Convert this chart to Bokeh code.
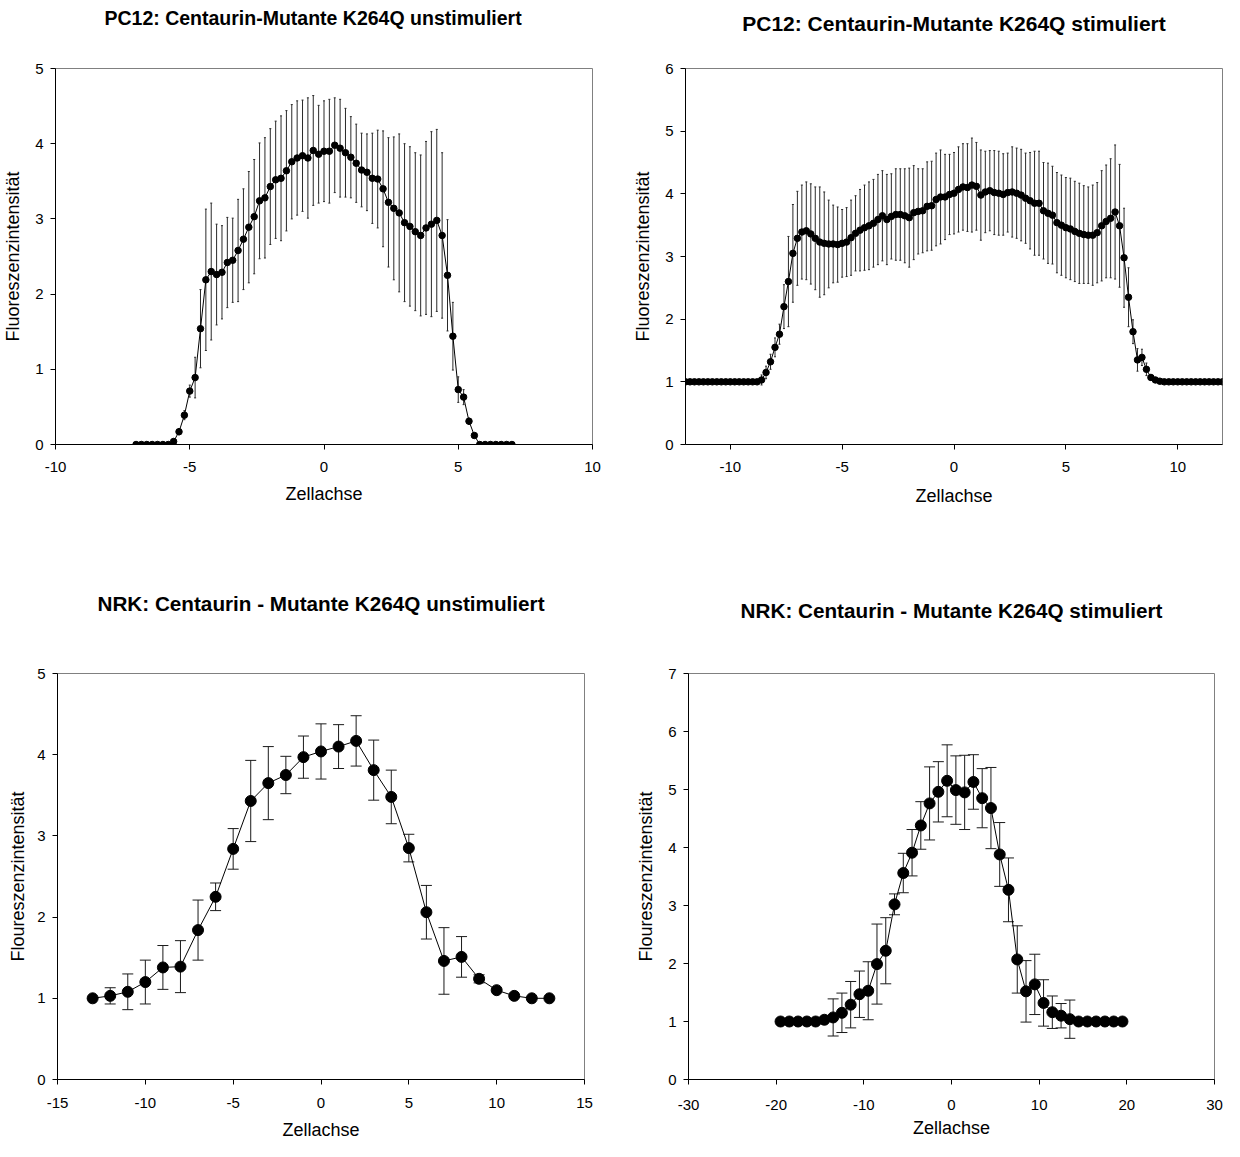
from bokeh.plotting import figure
from bokeh.models import (Range1d, ColumnDataSource, Whisker, TeeHead,
                          FixedTicker, Title)
from bokeh.layouts import row, column
from bokeh.embed import file_html
from bokeh.resources import INLINE

FONT = "Liberation Sans"

# ---------------- Panel A: PC12 unstimuliert ----------------
a_title = "PC12: Centaurin-Mutante K264Q unstimuliert"
a_x = [round(-7.0 + 0.2 * i, 1) for i in range(71)]
a_mean = [0, 0, 0, 0, 0, 0, 0,
          0.04, 0.17, 0.39, 0.71, 0.89, 1.54, 2.19, 2.30, 2.26, 2.29,
          2.42, 2.45, 2.58, 2.73, 2.89, 3.03, 3.24, 3.28, 3.43, 3.52,
          3.54, 3.64, 3.76, 3.81, 3.84, 3.81, 3.91, 3.86, 3.90, 3.90,
          3.98, 3.94, 3.88, 3.82, 3.74, 3.65, 3.62, 3.54, 3.53, 3.40,
          3.22, 3.14, 3.08, 2.95, 2.90, 2.83, 2.78, 2.88, 2.93, 2.98,
          2.78, 2.25, 1.44, 0.73, 0.63, 0.31, 0.12,
          0, 0, 0, 0, 0, 0, 0]
a_sd = [0, 0, 0, 0, 0, 0, 0,
        0.03, 0.04, 0.06, 0.08, 0.27, 0.52, 0.94, 0.91, 0.67, 0.62,
        0.60, 0.56, 0.68, 0.67, 0.74, 0.76, 0.77, 0.80, 0.77, 0.78,
        0.83, 0.80, 0.76, 0.76, 0.74, 0.80, 0.73, 0.65, 0.67, 0.69,
        0.63, 0.65, 0.59, 0.54, 0.52, 0.49, 0.51, 0.60, 0.65, 0.77,
        0.86, 0.95, 1.05, 1.05, 1.06, 1.05, 1.07, 1.15, 1.23, 1.21,
        1.10, 0.74, 0.45, 0.17, 0.10, 0.04, 0.03,
        0, 0, 0, 0, 0, 0, 0]

# ---------------- Panel B: PC12 stimuliert ----------------
b_title = "PC12: Centaurin-Mutante K264Q stimuliert"
b_x = [round(-12.0 + 0.2 * i, 1) for i in range(121)]
b_mean = [1.00, 1.00, 1.00, 1.00, 1.00, 1.00, 1.00, 1.00, 1.00, 1.00,
          1.00, 1.00, 1.00, 1.00, 1.00, 1.00, 1.00,
          1.03, 1.15, 1.32, 1.55, 1.76, 2.20, 2.60, 3.05, 3.29, 3.39,
          3.41, 3.36, 3.29, 3.23, 3.21, 3.20, 3.20, 3.19, 3.21, 3.23,
          3.30, 3.37, 3.42, 3.46, 3.49, 3.53, 3.59, 3.65, 3.59, 3.64,
          3.67, 3.67, 3.65, 3.62, 3.70, 3.72, 3.73, 3.80, 3.81, 3.91,
          3.95, 3.95, 3.99, 4.01, 4.07, 4.11, 4.10, 4.14, 4.12, 3.98,
          4.03, 4.05, 4.02, 4.01, 3.99, 4.02, 4.03, 4.01, 3.98, 3.93,
          3.89, 3.85, 3.85, 3.73, 3.69, 3.66, 3.54, 3.50, 3.46, 3.44,
          3.40, 3.37, 3.35, 3.34, 3.34, 3.38, 3.49, 3.56, 3.61, 3.71,
          3.49, 2.98, 2.35, 1.80, 1.35, 1.39, 1.20, 1.07, 1.03, 1.01,
          1.00, 1.00, 1.00, 1.00, 1.00, 1.00, 1.00, 1.00, 1.00, 1.00,
          1.00, 1.00, 1.00, 1.00]
b_sd = [0, 0, 0, 0, 0, 0, 0, 0, 0, 0,
        0, 0, 0, 0, 0, 0, 0,
        0.08, 0.10, 0.12, 0.15, 0.16, 0.35, 0.72, 0.78, 0.75, 0.75,
        0.78, 0.80, 0.82, 0.88, 0.82, 0.70, 0.62, 0.60, 0.54, 0.55,
        0.60, 0.60, 0.65, 0.68, 0.70, 0.70, 0.72, 0.72, 0.72, 0.68,
        0.73, 0.73, 0.75, 0.79, 0.75, 0.68, 0.67, 0.71, 0.71, 0.74,
        0.75, 0.68, 0.64, 0.65, 0.68, 0.69, 0.70, 0.75, 0.70, 0.72,
        0.65, 0.64, 0.67, 0.67, 0.65, 0.63, 0.72, 0.72, 0.73, 0.72,
        0.77, 0.83, 0.83, 0.77, 0.80, 0.78, 0.80, 0.80, 0.80, 0.81,
        0.80, 0.80, 0.78, 0.77, 0.80, 0.80, 0.88, 0.90, 0.95, 1.07,
        0.98, 0.79, 0.47, 0.19, 0.18, 0.13, 0.10, 0.04, 0.02, 0.01,
        0, 0, 0, 0, 0, 0, 0, 0, 0, 0,
        0, 0, 0, 0]

# ---------------- Panel C: NRK unstimuliert ----------------
c_title = "NRK: Centaurin - Mutante K264Q unstimuliert"
c_x = [-13, -12, -11, -10, -9, -8, -7, -6, -5, -4, -3, -2, -1, 0,
       1, 2, 3, 4, 5, 6, 7, 8, 9, 10, 11, 12, 13]
c_mean = [1.00, 1.03, 1.08, 1.20, 1.38, 1.39, 1.84, 2.25, 2.84, 3.43,
          3.65, 3.75, 3.97, 4.04, 4.10, 4.17, 3.81, 3.48, 2.85, 2.06,
          1.46, 1.51, 1.24, 1.10, 1.03, 1.00, 1.00]
c_sd = [0, 0.10, 0.22, 0.27, 0.27, 0.32, 0.37, 0.17, 0.25, 0.50,
        0.45, 0.23, 0.26, 0.34, 0.27, 0.31, 0.37, 0.33, 0.17, 0.33,
        0.41, 0.25, 0.05, 0, 0, 0, 0]

# ---------------- Panel D: NRK stimuliert ----------------
d_title = "NRK: Centaurin - Mutante K264Q stimuliert"
d_x = [-19.5 + i for i in range(40)]
d_mean = [1.00, 1.00, 1.00, 1.00, 1.00, 1.03, 1.07, 1.15, 1.29, 1.47,
          1.53, 1.99, 2.22, 3.02, 3.56, 3.91, 4.38, 4.76, 4.96, 5.15,
          4.99, 4.95, 5.13, 4.85, 4.68, 3.88, 3.27, 2.07, 1.52, 1.64,
          1.32, 1.16, 1.10, 1.04, 1.00, 1.00, 1.00, 1.00, 1.00, 1.00]
d_sd = [0, 0, 0, 0, 0, 0, 0.32, 0.34, 0.40, 0.40,
        0.50, 0.69, 0.57, 0.18, 0.34, 0.40, 0.41, 0.63, 0.52, 0.62,
        0.59, 0.64, 0.47, 0.51, 0.70, 0.55, 0.55, 0.58, 0.53, 0.52,
        0.40, 0.28, 0.21, 0.33, 0, 0, 0, 0, 0, 0]

Y_LABEL_TOP = "Fluoreszenzintensität"
Y_LABEL_BOTTOM = "Floureszenzintensität"
X_LABEL = "Zellachse"

a_xticks = [-10, -5, 0, 5, 10]
b_xticks = [-10, -5, 0, 5, 10]
c_xticks = [-15, -10, -5, 0, 5, 10, 15]
d_xticks = [-30, -20, -10, 0, 10, 20, 30]
a_yticks = [0, 1, 2, 3, 4, 5]
b_yticks = [0, 1, 2, 3, 4, 5, 6]
c_yticks = [0, 1, 2, 3, 4, 5]
d_yticks = [0, 1, 2, 3, 4, 5, 6, 7]


def panel(x, y, sd, title, ylabel, xr, yr, xticks, yticks,
          fw, fh, bl, br, bt, bb, msize, cap, bar_color,
          title_space, title_size, title_align, title_offset,
          ylab_standoff, xtick_standoff, xlab_standoff):
    p = figure(width=bl + fw + br, height=bt + fh + bb,
               frame_width=fw, frame_height=fh,
               min_border_left=bl, min_border_right=br,
               min_border_top=bt, min_border_bottom=bb,
               x_range=Range1d(*xr), y_range=Range1d(*yr),
               output_backend="svg", toolbar_location=None,
               background_fill_color="white", border_fill_color="white")

    # empty spacer between frame and title, then the title itself
    p.add_layout(Title(text=" ", text_font_size="1px", standoff=title_space),
                 "above")
    p.add_layout(Title(text=title, align=title_align, offset=title_offset,
                       standoff=0, text_font=FONT, text_font_style="bold",
                       text_font_size=title_size, text_color="black"),
                 "above")

    p.xgrid.visible = False
    p.ygrid.visible = False
    p.outline_line_color = "#808080"
    p.outline_line_width = 1

    for ax, ticks in ((p.xaxis[0], xticks), (p.yaxis[0], yticks)):
        ax.ticker = FixedTicker(ticks=ticks)
        ax.major_label_overrides = {t: str(t) for t in ticks}
        ax.minor_tick_line_color = None
        ax.major_tick_in = 0
        ax.major_tick_out = 5
        ax.axis_line_color = "black"
        ax.major_tick_line_color = "black"
        ax.major_label_text_font = FONT
        ax.major_label_text_font_size = "15px"
        ax.major_label_text_color = "black"
        ax.axis_label_text_font = FONT
        ax.axis_label_text_font_size = "18px"
        ax.axis_label_text_font_style = "normal"
        ax.axis_label_text_color = "black"
    p.xaxis.axis_label = X_LABEL
    p.yaxis.axis_label = ylabel
    p.xaxis.major_label_standoff = xtick_standoff
    p.xaxis.axis_label_standoff = xlab_standoff
    p.yaxis.major_label_standoff = 7
    p.yaxis.axis_label_standoff = ylab_standoff

    ex = [xi for xi, s in zip(x, sd) if s > 0]
    eu = [yi + s for yi, s in zip(y, sd) if s > 0]
    el = [yi - s for yi, s in zip(y, sd) if s > 0]
    src = ColumnDataSource(dict(x=ex, upper=eu, lower=el))
    w = Whisker(source=src, base="x", upper="upper", lower="lower",
                dimension="height", line_color=bar_color, line_width=1,
                upper_head=TeeHead(size=cap, line_color=bar_color, line_width=1),
                lower_head=TeeHead(size=cap, line_color=bar_color, line_width=1))
    p.add_layout(w)
    p.line(x, y, line_color="black", line_width=1)
    p.scatter(x, y, size=msize, fill_color="black", line_color="black")
    return p


p1 = panel(a_x, a_mean, a_sd, a_title, Y_LABEL_TOP, (-10, 10), (0, 5),
           a_xticks, a_yticks, 537, 376, 52, 31, 64, 112, 6.5, 2, "#2a2a2a",
           37, "19.5px", "left", 49, 9, 12, 9)
p2 = panel(b_x, b_mean, b_sd, b_title, Y_LABEL_TOP, (-12, 12), (0, 6),
           b_xticks, b_yticks, 537, 376, 62, 5, 68, 108, 6.5, 2, "#2a2a2a",
           31, "21px", "center", 0, 9, 12, 11)
p3 = panel(c_x, c_mean, c_sd, c_title, Y_LABEL_BOTTOM, (-15, 15), (0, 5),
           c_xticks, c_yticks, 527, 406, 57, 36, 117, 66, 11, 11, "#1a1a1a",
           56, "20.7px", "center", 0, 6, 13, 9)
p4 = panel(d_x, d_mean, d_sd, d_title, Y_LABEL_BOTTOM, (-30, 30), (0, 7),
           d_xticks, d_yticks, 526, 406, 68, 10, 121, 62, 11, 11, "#1a1a1a",
           49, "20.7px", "center", 0, 9, 15, 5)

layout = column(row(p1, p2), row(p3, p4))
open("out.html", "w").write(file_html(layout, INLINE))
